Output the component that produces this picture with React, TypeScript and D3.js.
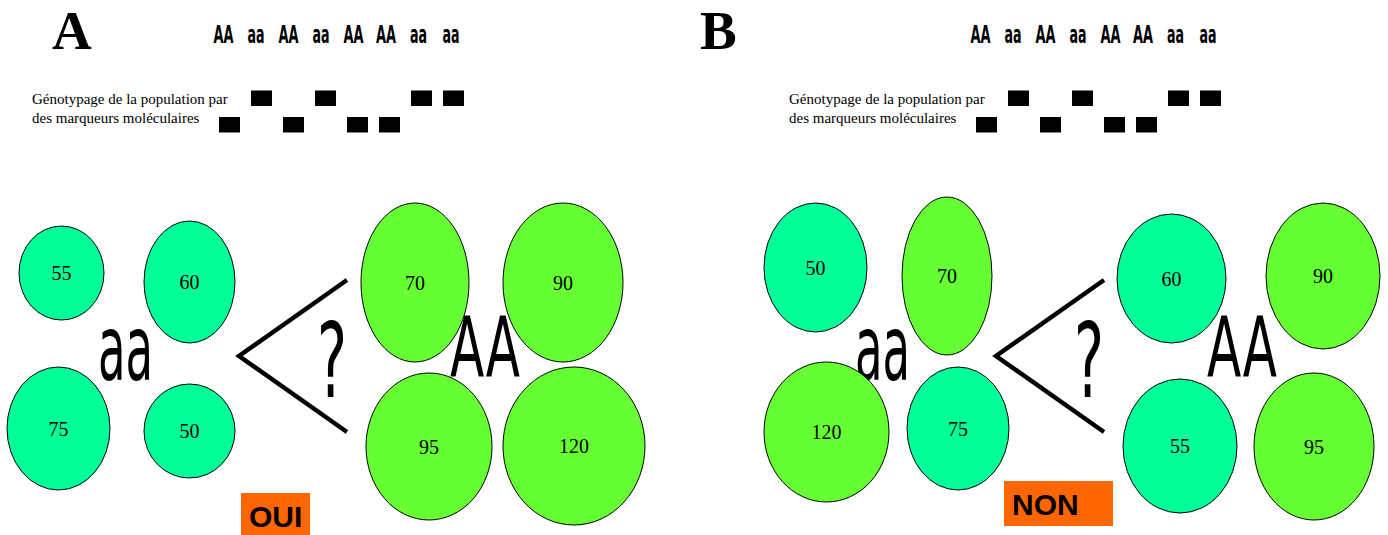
import React from "react";
import * as d3 from "d3";

// ---------- DATA ----------
const panelLabels = ["A", "B"];
const genotypes = ["AA", "aa", "AA", "aa", "AA", "AA", "aa", "aa"];
const markerCaption = ["Génotypage de la population par", "des marqueurs moléculaires"];
// plant heights grouped by marker genotype
const panelA_aa = [55, 60, 75, 50];
const panelA_AA = [70, 90, 95, 120];
const panelB_aa = [50, 70, 120, 75];
const panelB_AA = [60, 90, 55, 95];
// phenotype class of each plant (low / high)
const panelA_aaClass = ["low", "low", "low", "low"];
const panelA_AAClass = ["high", "high", "high", "high"];
const panelB_aaClass = ["low", "high", "high", "low"];
const panelB_AAClass = ["low", "high", "low", "high"];
const answers = ["OUI", "NON"];

// ---------- LAYOUT ----------
const W = 1388;
const H = 535;
const classColor = d3.scaleOrdinal<string, string>().domain(["low", "high"]).range(["#00FF99", "#66FF33"]);

type Ell = { cx: number; cy: number; rx: number; ry: number };
const layoutA_aa: Ell[] = [
  { cx: 61.5, cy: 273, rx: 42.5, ry: 47 },
  { cx: 189.5, cy: 282, rx: 45.5, ry: 61 },
  { cx: 58.5, cy: 428.5, rx: 51.5, ry: 61.5 },
  { cx: 189.5, cy: 431, rx: 45.5, ry: 47 },
];
const layoutA_AA: Ell[] = [
  { cx: 415, cy: 282.5, rx: 54, ry: 79.5 },
  { cx: 563, cy: 282.5, rx: 60, ry: 79.5 },
  { cx: 429, cy: 446.5, rx: 63, ry: 73.5 },
  { cx: 574, cy: 446, rx: 71, ry: 79 },
];
const layoutB_aa: Ell[] = [
  { cx: 815.5, cy: 267.5, rx: 51.5, ry: 64.5 },
  { cx: 947, cy: 276, rx: 45, ry: 79 },
  { cx: 826.5, cy: 432, rx: 62.5, ry: 70 },
  { cx: 958, cy: 428.5, rx: 51, ry: 61.5 },
];
const layoutB_AA: Ell[] = [
  { cx: 1171.5, cy: 278.5, rx: 54.5, ry: 64.5 },
  { cx: 1323, cy: 276, rx: 57, ry: 73 },
  { cx: 1180, cy: 446, rx: 57, ry: 67 },
  { cx: 1314, cy: 446.5, rx: 60, ry: 73.5 },
];

const narrow = "'Liberation Sans Narrow', 'DejaVu Sans Condensed', 'Liberation Sans', Arial, sans-serif";
const serif = "'Liberation Serif', 'Times New Roman', Times, serif";
const sans = "'Liberation Sans', Arial, sans-serif";

type PanelCfg = {
  label: string;
  labelX: number;
  off: number; // x offset of the panel content
  aa: number[];
  aaClass: string[];
  aaLayout: Ell[];
  AA: number[];
  AAClass: string[];
  AALayout: Ell[];
  aaText: { x: number; w: number };
  AAText: { x: number; w: number };
  answer: string;
  box: { x: number; y: number; w: number; h: number };
  ansText: { x: number; y: number };
};

const panels: PanelCfg[] = [
  {
    label: panelLabels[0], labelX: 52, off: 0,
    aa: panelA_aa, aaClass: panelA_aaClass, aaLayout: layoutA_aa,
    AA: panelA_AA, AAClass: panelA_AAClass, AALayout: layoutA_AA,
    aaText: { x: 98, w: 55 }, AAText: { x: 450, w: 70 },
    answer: answers[0], box: { x: 241, y: 493, w: 69, h: 44 }, ansText: { x: 249, y: 527 },
  },
  {
    label: panelLabels[1], labelX: 700, off: 757,
    aa: panelB_aa, aaClass: panelB_aaClass, aaLayout: layoutB_aa,
    AA: panelB_AA, AAClass: panelB_AAClass, AALayout: layoutB_AA,
    aaText: { x: 855, w: 55 }, AAText: { x: 1207, w: 70 },
    answer: answers[1], box: { x: 1004, y: 481, w: 109, h: 45 }, ansText: { x: 1012, y: 515 },
  },
];

const markerX = d3.scaleLinear().domain([0, genotypes.length - 1]).range([229.5, 453.5]);
const labelX = d3.scaleLinear().domain([0, genotypes.length - 1]).range([223.5, 451]);
const markerRow = d3.scaleOrdinal<string, number>().domain(["aa", "AA"]).range([90.5, 117]);

function Ellipses({ values, classes, layout }: { values: number[]; classes: string[]; layout: Ell[] }) {
  return (
    <g>
      {values.map((v, i) => {
        const e = layout[i];
        return (
          <g key={i}>
            <ellipse cx={e.cx} cy={e.cy} rx={e.rx} ry={e.ry} fill={classColor(classes[i])} stroke="#000" strokeWidth={1} />
            <text x={e.cx} y={e.cy + 7} textAnchor="middle" fontFamily={serif} fontSize={20} fill="#000">
              {v}
            </text>
          </g>
        );
      })}
    </g>
  );
}

function Panel({ p }: { p: PanelCfg }) {
  const o = p.off;
  const line = d3.line<[number, number]>();
  const chevron = line([
    [347 + o, 280],
    [239 + o, 356],
    [347 + o, 432],
  ]) as string;
  return (
    <g>
      <text x={p.labelX} y={49} fontFamily={serif} fontWeight="bold" fontSize={55} fill="#000">
        {p.label}
      </text>
      {genotypes.map((g, i) => (
        <text
          key={"g" + i}
          x={labelX(i) + o}
          y={43}
          textAnchor="middle"
          fontFamily={narrow}
          fontWeight="bold"
          fontSize={25}
          textLength={g === "AA" ? 20 : 17}
          lengthAdjust="spacingAndGlyphs"
          fill="#000"
        >
          {g}
        </text>
      ))}
      {markerCaption.map((t, i) => (
        <text key={"c" + i} x={32 + o} y={104 + i * 19} fontFamily={serif} fontSize={15} fill="#000">
          {t}
        </text>
      ))}
      {genotypes.map((g, i) => (
        <rect key={"m" + i} x={markerX(i) + o - 10.5} y={markerRow(g)} width={21} height={15.5} fill="#000" />
      ))}
      <path d={chevron} fill="none" stroke="#000" strokeWidth={4.5} strokeLinejoin="miter" />
      <text
        x={317 + o}
        y={397}
        fontFamily={narrow}
        fontSize={104}
        textLength={30}
        lengthAdjust="spacingAndGlyphs"
        fill="#000"
      >
        ?
      </text>
      <text
        x={p.aaText.x}
        y={380}
        fontFamily={narrow}
        fontSize={90}
        textLength={p.aaText.w}
        lengthAdjust="spacingAndGlyphs"
        fill="#000"
      >
        aa
      </text>
      <Ellipses values={p.aa} classes={p.aaClass} layout={p.aaLayout} />
      <Ellipses values={p.AA} classes={p.AAClass} layout={p.AALayout} />
      <text
        x={p.AAText.x}
        y={377}
        fontFamily={narrow}
        fontSize={84}
        textLength={p.AAText.w}
        lengthAdjust="spacingAndGlyphs"
        fill="#000"
      >
        AA
      </text>
      <rect x={p.box.x} y={p.box.y} width={p.box.w} height={p.box.h} fill="#FF6600" />
      <text x={p.ansText.x} y={p.ansText.y} fontFamily={sans} fontWeight="bold" fontSize={30} fill="#000">
        {p.answer}
      </text>
    </g>
  );
}

export default function App() {
  return (
    <svg
      width={W}
      height={H}
      viewBox={`0 0 ${W} ${H}`}
      style={{ position: "absolute", left: 0, top: 0, background: "#fff" }}
    >
      <rect x={0} y={0} width={W} height={H} fill="#fff" />
      {panels.map((p, i) => (
        <Panel key={i} p={p} />
      ))}
    </svg>
  );
}
